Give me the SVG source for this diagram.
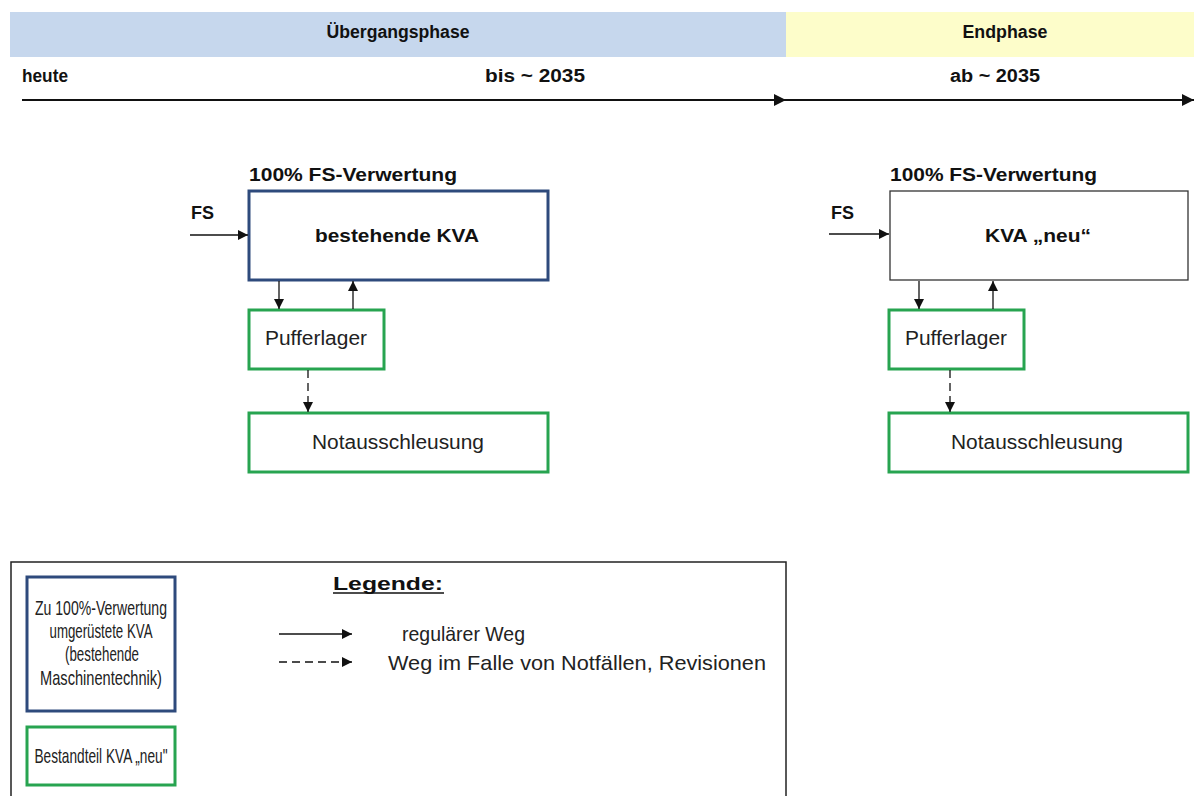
<svg xmlns="http://www.w3.org/2000/svg" width="1194" height="796" viewBox="0 0 1194 796">
  <style>
    text { font-family: "Liberation Sans", Arial, sans-serif; fill: #111; }
    .hdr { font-size: 18px; font-weight: bold; }
    .node { font-size: 20px; fill: #222; }
    .leg { font-size: 21px; fill: #222; }
    .blue { fill: #fff; stroke: #2e4a7c; stroke-width: 3; }
    .green { fill: #fff; stroke: #27a450; stroke-width: 3; }
    .plain { fill: #fff; stroke: #333; stroke-width: 1.3; }
    .conn { stroke: #111; stroke-width: 1.3; fill: none; }
    .dash { stroke-dasharray: 8 5; }
  </style>
  <defs>
    <marker id="ah" viewBox="0 0 10 10" refX="10" refY="5" markerWidth="10" markerHeight="10" markerUnits="userSpaceOnUse" orient="auto">
      <path d="M0,0 L10,5 L0,10 z" fill="#111"/>
    </marker>
    <marker id="ahBig" viewBox="0 0 10 10" refX="10" refY="5" markerWidth="12" markerHeight="12" markerUnits="userSpaceOnUse" orient="auto">
      <path d="M0,0 L10,5 L0,10 z" fill="#111"/>
    </marker>
  </defs>

  <rect width="1194" height="796" fill="#fff"/>

  <!-- phase bands -->
  <g id="phases">
    <rect x="10" y="12" width="776" height="45" fill="#c6d7ed"/>
    <rect x="786" y="12" width="408" height="45" fill="#fdfdca"/>
    <text class="hdr" x="398" y="38" text-anchor="middle" textLength="143" lengthAdjust="spacingAndGlyphs">Übergangsphase</text>
    <text class="hdr" x="1005" y="38" text-anchor="middle" textLength="85" lengthAdjust="spacingAndGlyphs">Endphase</text>
  </g>

  <!-- timeline -->
  <g id="timeline">
    <text class="hdr" x="22" y="82" textLength="46" lengthAdjust="spacingAndGlyphs">heute</text>
    <text class="hdr" x="585" y="82" text-anchor="end" textLength="100" lengthAdjust="spacingAndGlyphs">bis ~ 2035</text>
    <text class="hdr" x="995" y="82" text-anchor="middle" textLength="90" lengthAdjust="spacingAndGlyphs">ab ~ 2035</text>
    <line x1="22" y1="100" x2="786" y2="100" stroke="#111" stroke-width="2" marker-end="url(#ahBig)"/>
    <line x1="786" y1="100" x2="1194" y2="100" stroke="#111" stroke-width="2" marker-end="url(#ahBig)"/>
  </g>

  <!-- left plant: existing KVA -->
  <g id="kva-bestehend">
    <text class="hdr" x="249" y="181" textLength="208" lengthAdjust="spacingAndGlyphs">100% FS-Verwertung</text>
    <rect class="blue" x="249" y="191" width="299" height="89"/>
    <text class="hdr" x="397" y="242" text-anchor="middle" textLength="164" lengthAdjust="spacingAndGlyphs">bestehende KVA</text>
  </g>
  <g id="fs-links">
    <text class="hdr" x="191" y="219">FS</text>
  </g>
  <g id="puffer-links">
    <rect class="green" x="249" y="310" width="135" height="59"/>
    <text class="node" x="316" y="345" text-anchor="middle" textLength="102" lengthAdjust="spacingAndGlyphs">Pufferlager</text>
  </g>
  <g id="notaus-links">
    <rect class="green" x="249" y="413" width="299" height="59"/>
    <text class="node" x="398" y="449" text-anchor="middle" textLength="172" lengthAdjust="spacingAndGlyphs">Notausschleusung</text>
  </g>

  <!-- right plant: new KVA -->
  <g id="kva-neu">
    <text class="hdr" x="890" y="181" textLength="207" lengthAdjust="spacingAndGlyphs">100% FS-Verwertung</text>
    <rect class="plain" x="890" y="191" width="298" height="89"/>
    <text class="hdr" x="1038" y="242" text-anchor="middle" textLength="106" lengthAdjust="spacingAndGlyphs">KVA „neu“</text>
  </g>
  <g id="fs-rechts">
    <text class="hdr" x="831" y="219">FS</text>
  </g>
  <g id="puffer-rechts">
    <rect class="green" x="889" y="310" width="135" height="59"/>
    <text class="node" x="956" y="345" text-anchor="middle" textLength="102" lengthAdjust="spacingAndGlyphs">Pufferlager</text>
  </g>
  <g id="notaus-rechts">
    <rect class="green" x="889" y="413" width="299" height="59"/>
    <text class="node" x="1037" y="449" text-anchor="middle" textLength="172" lengthAdjust="spacingAndGlyphs">Notausschleusung</text>
  </g>

  <!-- connectors -->
  <g id="connectors">
    <line class="conn" x1="190" y1="235" x2="248" y2="235" marker-end="url(#ah)"/>
    <line class="conn" x1="279" y1="281" x2="279" y2="309" marker-end="url(#ah)"/>
    <line class="conn" x1="353" y1="309" x2="353" y2="281" marker-end="url(#ah)"/>
    <line class="conn dash" x1="308" y1="370" x2="308" y2="412" marker-end="url(#ah)"/>

    <line class="conn" x1="829" y1="234" x2="889" y2="234" marker-end="url(#ah)"/>
    <line class="conn" x1="919" y1="281" x2="919" y2="309" marker-end="url(#ah)"/>
    <line class="conn" x1="993" y1="309" x2="993" y2="281" marker-end="url(#ah)"/>
    <line class="conn dash" x1="950" y1="370" x2="950" y2="412" marker-end="url(#ah)"/>
  </g>

  <!-- legend -->
  <g id="legende">
    <rect x="11" y="562" width="775" height="240" fill="#fff" stroke="#222" stroke-width="1.5"/>
    <text class="hdr" x="333" y="590" font-size="20" textLength="110" lengthAdjust="spacingAndGlyphs">Legende:</text>
    <line x1="333" y1="593" x2="444" y2="593" stroke="#111" stroke-width="1.3"/>

    <rect class="blue" x="27" y="577" width="148" height="134"/>
    <text class="leg" x="101" y="615" text-anchor="middle" textLength="132" lengthAdjust="spacingAndGlyphs">Zu 100%-Verwertung</text>
    <text class="leg" x="101" y="638" text-anchor="middle" textLength="103" lengthAdjust="spacingAndGlyphs">umgerüstete KVA</text>
    <text class="leg" x="102" y="661" text-anchor="middle" textLength="74" lengthAdjust="spacingAndGlyphs">(bestehende</text>
    <text class="leg" x="101" y="685" text-anchor="middle" textLength="122" lengthAdjust="spacingAndGlyphs">Maschinentechnik)</text>

    <rect class="green" x="27" y="727" width="148" height="58"/>
    <text class="leg" x="101" y="763" text-anchor="middle" textLength="133" lengthAdjust="spacingAndGlyphs">Bestandteil KVA „neu"</text>

    <line class="conn" x1="279" y1="634" x2="352" y2="634" marker-end="url(#ah)"/>
    <line class="conn dash" x1="279" y1="662" x2="352" y2="662" marker-end="url(#ah)"/>
    <text class="leg" x="402" y="641" textLength="123" lengthAdjust="spacingAndGlyphs">regulärer Weg</text>
    <text class="leg" x="388" y="670" textLength="378" lengthAdjust="spacingAndGlyphs">Weg im Falle von Notfällen, Revisionen</text>
  </g>
</svg>
